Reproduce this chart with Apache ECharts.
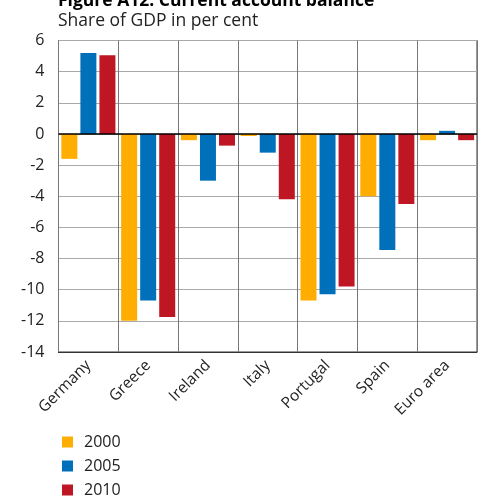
<!DOCTYPE html>
<html><head><meta charset="utf-8">
<script src="https://cdn.jsdelivr.net/npm/echarts@6/dist/echarts.min.js"></script>
<style>html,body{margin:0;padding:0;background:#fff}#c{width:483px;height:497px}</style>
</head><body><div id="c"></div>
<script>
const categories = ['Germany','Greece','Ireland','Italy','Portugal','Spain','Euro area'];
const years = ['2000','2005','2010'];
const s2000 = [-1.6, -12.0, -0.4, -0.13, -10.7, -4.0, -0.4];
const s2005 = [5.2, -10.7, -3.0, -1.2, -10.3, -7.45, 0.2];
const s2010 = [5.05, -11.75, -0.75, -4.2, -9.8, -4.5, -0.4];
const yTicks = [6,4,2,0,-2,-4,-6,-8,-10,-12,-14];
const colors = ['#FFAD00','#0070BA','#BE1622'];
const font = '"Open Sans", "Noto Sans", sans-serif';

const chart = echarts.init(document.getElementById('c'));
const mk = (name, data, color) => ({
  name, type:'bar', data, barWidth:16, barGap:'19%',
  itemStyle:{color}
});
const legendTops = [429, 453, 477];
chart.setOption({
  animation:false,
  textStyle:{fontFamily:font},
  title:[
    {text:'Figure A12: Current account balance', left:53, top:-13,
     textStyle:{fontFamily:font, fontWeight:'bold', fontSize:17.5, color:'#000'}},
    {text:'Share of GDP in per cent', left:53, top:7,
     textStyle:{fontFamily:font, fontWeight:'normal', fontSize:17.5, color:'#222'}}
  ],
  legend: years.map((y,i)=>({left:57, top:legendTops[i], itemWidth:11, itemHeight:11,
    icon:'rect', textStyle:{fontFamily:font, fontSize:16, color:'#222', padding:[0,0,0,6]},
    data:[y]})),
  grid:{left:58.5, top:40.5, right:6, bottom:145, containLabel:false, show:true, borderColor:'#333', borderWidth:1},
  xAxis:{type:'category', data:categories, position:'bottom',
    axisLine:{onZero:false, lineStyle:{color:'#333'}},
    axisTick:{show:false},
    splitLine:{show:true, lineStyle:{color:'#777'}},
    axisLabel:{rotate:45, interval:0, fontFamily:font, fontSize:15.5, color:'#222', margin:11}},
  yAxis:{type:'value', min:-14, max:6, interval:2,
    axisLine:{show:false}, axisTick:{show:false},
    splitLine:{lineStyle:{color:'#aaa'}},
    axisLabel:{fontFamily:font, fontSize:16, color:'#222', margin:14,
      formatter:v=> yTicks.includes(v) ? String(v) : ''}},
  series:[mk(years[0], s2000, colors[0]), mk(years[1], s2005, colors[1]),
    Object.assign(mk(years[2], s2010, colors[2]), {
      markLine:{silent:true, symbol:'none', label:{show:false},
        lineStyle:{color:'#000', width:1.5, type:'solid'}, data:[{yAxis:0}]}})]
});
</script></body></html>
